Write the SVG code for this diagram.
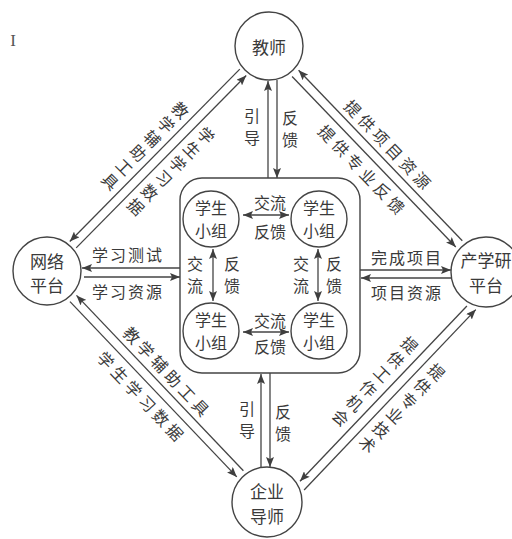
<svg xmlns="http://www.w3.org/2000/svg" width="512" height="539" viewBox="0 0 512 539">
<defs>
<marker id="ah" viewBox="0 0 10 8" refX="10" refY="4" markerWidth="10" markerHeight="8" markerUnits="userSpaceOnUse" orient="auto-start-reverse"><path d="M0,0 L10,4 L0,8 L2,4 z" fill="#3f3f3f"/></marker>
<style>
text{font-family:"Noto Sans CJK SC","Noto Sans",sans-serif;fill:#3a3a3a;text-anchor:middle;dominant-baseline:central}
.n{font-size:17px}
.s{font-size:16px}
.d{font-size:16px;letter-spacing:4px}
.v{font-size:16px;letter-spacing:4px;writing-mode:vertical-rl}
circle,rect{fill:#fff;stroke:#444;stroke-width:1.4}
.c line{stroke:#444;stroke-width:1.3;fill:none}
.st{marker-start:url(#ah)}
.en{marker-end:url(#ah)}
.both{marker-start:url(#ah);marker-end:url(#ah)}
</style>
</defs>
<rect x="0" y="0" width="512" height="539" style="fill:#fff;stroke:none"/>
<text x="13" y="40" style="font-family:'Liberation Serif',serif;font-size:17px;fill:#555">I</text>

<g id="connectors" class="c">
<!-- teacher - network -->
<line class="st" x1="69.8" y1="241.5" x2="239.8" y2="69.1"/>
<line class="en" x1="76.2" y1="247.9" x2="246.2" y2="75.5"/>
<!-- teacher - platform -->
<line class="st" x1="298.6" y1="70.3" x2="462.3" y2="240.8"/>
<line class="en" x1="292.1" y1="76.5" x2="455.8" y2="247.0"/>
<!-- network - enterprise -->
<line class="st" x1="76.5" y1="295.4" x2="243.4" y2="470.7"/>
<line class="en" x1="70.0" y1="301.6" x2="236.8" y2="476.9"/>
<!-- enterprise - platform -->
<line class="st" x1="300.0" y1="481.2" x2="466.9" y2="306.0"/>
<line class="en" x1="304.1" y1="490.0" x2="475.8" y2="309.6"/>
<!-- teacher - students -->
<line class="st" x1="268" y1="81" x2="268" y2="178"/>
<line class="en" x1="277" y1="80" x2="277" y2="178"/>
<!-- enterprise - students -->
<line class="st" x1="261" y1="374" x2="261" y2="467"/>
<line class="en" x1="270" y1="373" x2="270" y2="467"/>
<!-- network - students -->
<line class="en" x1="180" y1="268" x2="82" y2="268"/>
<line class="en" x1="84" y1="277" x2="180" y2="277"/>
<!-- students - platform -->
<line class="en" x1="360" y1="270" x2="451" y2="270"/>
<line class="en" x1="451" y1="278" x2="361" y2="278"/>
</g>

<g id="labels">
<text class="v" transform="translate(145.2,145.9) rotate(44.6)" y="2">教学辅助工具</text>
<text class="v" transform="translate(170.8,171.1) rotate(44.6)" y="2">学生学习数据</text>
<text class="d" transform="translate(388.0,143.9) rotate(46.2)" x="2">提供项目资源</text>
<text class="d" transform="translate(362.0,168.9) rotate(46.2)" x="2">提供专业反馈</text>
<text class="d" transform="translate(166.9,370.8) rotate(46.4)" x="2">教学辅助工具</text>
<text class="d" transform="translate(140.9,395.6) rotate(46.4)" x="2">学生学习数据</text>
<text class="v" transform="translate(375.1,381.3) rotate(43.6)" y="2">提供工作机会</text>
<text class="v" transform="translate(401.9,408.2) rotate(43.6)" y="2">提供专业技术</text>
<text class="s"><tspan x="252" y="115">引</tspan><tspan x="252" y="137">导</tspan></text>
<text class="s"><tspan x="290" y="117">反</tspan><tspan x="290" y="139">馈</tspan></text>
<text class="s"><tspan x="247" y="408">引</tspan><tspan x="247" y="430">导</tspan></text>
<text class="s"><tspan x="283" y="411">反</tspan><tspan x="283" y="433">馈</tspan></text>
<text class="s" x="128" y="254" style="letter-spacing:2px">学习测试</text>
<text class="s" x="128" y="291" style="letter-spacing:2px">学习资源</text>
<text class="s" x="407" y="257" style="letter-spacing:2px">完成项目</text>
<text class="s" x="407" y="292" style="letter-spacing:2px">项目资源</text>
</g>

<g id="group-box"><rect x="180" y="178" width="180" height="195" rx="22"/></g>

<g id="inner-connectors" class="c">
<line class="both" x1="243" y1="215" x2="289" y2="215"/>
<line class="both" x1="243" y1="332" x2="289" y2="332"/>
<line class="both" x1="213" y1="249" x2="213" y2="301"/>
<line class="both" x1="318" y1="249" x2="318" y2="301"/>
</g>
<g id="inner-labels">
<text class="s" x="270" y="202">交流</text>
<text class="s" x="270" y="231">反馈</text>
<text class="s" x="270" y="320">交流</text>
<text class="s" x="270" y="346">反馈</text>
<text class="s"><tspan x="195" y="263">交</tspan><tspan x="195" y="285">流</tspan></text>
<text class="s"><tspan x="232" y="263">反</tspan><tspan x="232" y="285">馈</tspan></text>
<text class="s"><tspan x="301" y="263">交</tspan><tspan x="301" y="285">流</tspan></text>
<text class="s"><tspan x="334" y="263">反</tspan><tspan x="334" y="285">馈</tspan></text>
</g>

<g id="sg-tl"><circle cx="211" cy="219" r="28"/><text class="s"><tspan x="211" y="207">学生</tspan><tspan x="211" y="230">小组</tspan></text></g>
<g id="sg-tr"><circle cx="319" cy="219" r="28"/><text class="s"><tspan x="319" y="207">学生</tspan><tspan x="319" y="230">小组</tspan></text></g>
<g id="sg-bl"><circle cx="211" cy="331" r="28"/><text class="s"><tspan x="211" y="319">学生</tspan><tspan x="211" y="342">小组</tspan></text></g>
<g id="sg-br"><circle cx="319" cy="331" r="28"/><text class="s"><tspan x="319" y="319">学生</tspan><tspan x="319" y="342">小组</tspan></text></g>

<g id="teacher"><circle cx="269" cy="46" r="34"/><text class="n" x="269" y="46">教师</text></g>
<g id="network"><circle cx="47" cy="271" r="34"/><text class="n"><tspan x="47" y="260">网络</tspan><tspan x="47" y="284">平台</tspan></text></g>
<g id="platform"><circle cx="486" cy="272" r="35"/><text class="n"><tspan x="486" y="259">产学研</tspan><tspan x="486" y="284">平台</tspan></text></g>
<g id="enterprise"><circle cx="267" cy="502" r="35"/><text class="n"><tspan x="267" y="490">企业</tspan><tspan x="267" y="515">导师</tspan></text></g>
</svg>
